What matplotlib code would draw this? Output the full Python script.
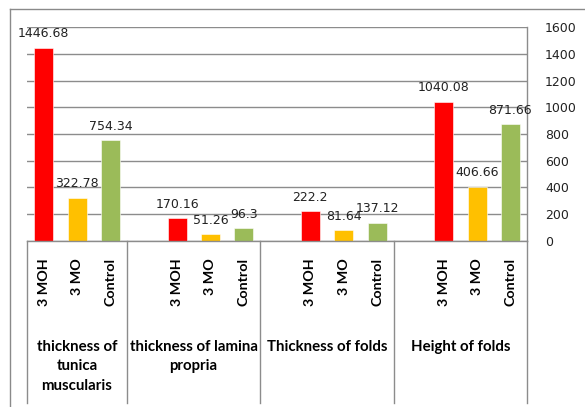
import matplotlib
matplotlib.use("Agg")
import matplotlib.pyplot as plt
from matplotlib.lines import Line2D

groups = ["thickness of\ntunica\nmuscularis", "thickness of lamina\npropria",
          "Thickness of folds", "Height of folds"]
series = ["3 MOH", "3 MO", "Control"]
moh = [1446.68, 170.16, 222.2, 1040.08]
mo = [322.78, 51.26, 81.64, 406.66]
control = [754.34, 96.3, 137.12, 871.66]
colors = ["#FF0000", "#FFC000", "#9BBB59"]
yticks = [0, 200, 400, 600, 800, 1000, 1200, 1400, 1600]

W, H = 585, 407
fig = plt.figure(figsize=(W / 100, H / 100), dpi=100)
# outer frame
fig.add_artist(Line2D([10 / W, 10 / W], [0, 1 - 9 / H], color="#8a8a8a", lw=1))
fig.add_artist(Line2D([10 / W, 1], [1 - 9 / H, 1 - 9 / H], color="#8a8a8a", lw=1))

x0, x1, y0, y1 = 27, 527, 241, 27
ax = fig.add_axes([x0 / W, 1 - y0 / H, (x1 - x0) / W, (y0 - y1) / H])
ax.set_xlim(0, 15)
ax.set_ylim(0, 1600)
for s in ax.spines.values():
    s.set_visible(False)

ax.set_yticks(yticks)
ax.yaxis.tick_right()
ax.tick_params(axis="y", length=0, pad=13, labelsize=9, labelcolor="#222222")
for lab in ax.get_yticklabels():
    lab.set_horizontalalignment("left")
ax.set_xticks([])
ax.grid(axis="y", color="#8c8c8c", lw=1)
ax.set_axisbelow(True)

data = [moh, mo, control]
px_per_axes_y = y0 - y1
below = -(403 - 241) / px_per_axes_y
trans = ax.get_xaxis_transform()
for g in range(len(groups)):
    start = 0 if g == 0 else 4 * g
    for k in range(3):
        xc = start + k + 0.5
        v = data[k][g]
        ax.bar(xc, v, width=0.57, color=colors[k], edgecolor="white", lw=0.4, zorder=3)
        ax.annotate(f"{v:g}", (xc, v), xytext=(0, 7.6), textcoords="offset points",
                    ha="center", va="baseline", fontsize=9, color="#222222",
                    family="DejaVu Sans", zorder=4)
        ax.text(xc, -17 / px_per_axes_y, series[k], transform=trans, rotation=90,
                ha="center", va="top", fontsize=10.3, fontweight="bold",
                family="Lato", color="black")
    gstart = 0 if g == 0 else 4 * g - 1
    gend = 4 * g + 3
    ax.text((gstart + gend) / 2, -99 / px_per_axes_y, groups[g], transform=trans,
            ha="center", va="top", fontsize=10.8, fontweight="bold", family="Lato",
            linespacing=1.5, color="black")

# category separators and axes lines
for xs in [0, 3, 7, 11, 15]:
    ax.add_line(Line2D([xs, xs], [0, below], transform=trans, color="#8c8c8c",
                       lw=1, clip_on=False))
ax.add_line(Line2D([15, 15], [0, 1], transform=trans, color="#8c8c8c", lw=1, clip_on=False))
ax.add_line(Line2D([0, 15], [0, 0], transform=trans, color="#8c8c8c", lw=1, clip_on=False, zorder=5))

fig.savefig("out.png", dpi=100)
